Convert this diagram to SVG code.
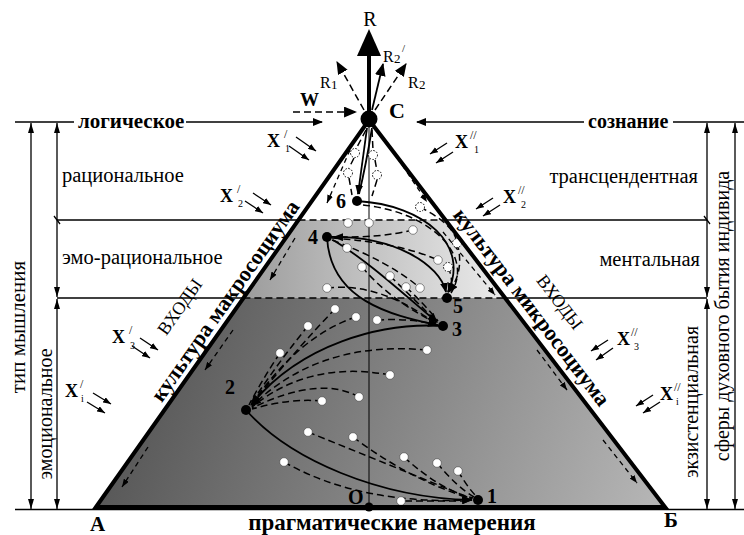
<svg xmlns="http://www.w3.org/2000/svg" width="744" height="535" viewBox="0 0 744 535">
<style>
.t{font-family:"Liberation Serif","Times New Roman",serif;fill:#000}
.b{font-weight:bold}
.ln{stroke:#000;stroke-width:1.3;fill:none}
.sol{stroke:#000;stroke-width:1.8;fill:none}
.dash{stroke:#000;stroke-width:1.5;fill:none;stroke-dasharray:7 4}
.edg{stroke:#000;stroke-width:1.3;fill:none;stroke-dasharray:5 4}
.wd{fill:#fff;stroke:#444;stroke-width:0.6}
.gd{fill:#fff;stroke:#000;stroke-width:1;stroke-dasharray:1.5 1.5}
.nd{fill:#000}
.nl{font-size:20px}
</style>
<defs>
<linearGradient id="gBand" x1="243" y1="0" x2="505" y2="0" gradientUnits="userSpaceOnUse">
<stop offset="0" stop-color="#9c9c9c"/><stop offset="1" stop-color="#ececec"/>
</linearGradient>
<linearGradient id="gLow" x1="150" y1="320" x2="650" y2="500" gradientUnits="userSpaceOnUse">
<stop offset="0" stop-color="#565656"/><stop offset="1" stop-color="#b4b4b4"/>
</linearGradient>
<marker id="ac" viewBox="0 0 10 8" refX="9" refY="4" markerWidth="10" markerHeight="8" markerUnits="userSpaceOnUse" orient="auto"><path d="M0,0L10,4L0,8z"/></marker>
<marker id="am" viewBox="0 0 12 10" refX="11" refY="5" markerWidth="13" markerHeight="11" markerUnits="userSpaceOnUse" orient="auto"><path d="M0,0L12,5L0,10z"/></marker>
<marker id="ad" viewBox="0 0 10 6" refX="10" refY="3" markerWidth="10" markerHeight="6" markerUnits="userSpaceOnUse" orient="auto-start-reverse"><path d="M0,0L10,3L0,6z"/></marker>
<marker id="ax" viewBox="0 0 8 6" refX="8" refY="3" markerWidth="8" markerHeight="6" markerUnits="userSpaceOnUse" orient="auto"><path d="M0,0L8,3L0,6z"/></marker>
</defs>
<rect width="744" height="535" fill="#fff"/>

<!-- triangle fills -->
<polygon points="298.5,220 445.5,220 505.1,298 243.4,298" fill="url(#gBand)"/>
<polygon points="243.4,298 505.1,298 665,507 96,507" fill="url(#gLow)"/>
<line x1="298.5" y1="220" x2="445.5" y2="220" stroke="#000" stroke-width="1.5" stroke-dasharray="7 4"/>
<line x1="243.4" y1="298" x2="505.1" y2="298" stroke="#000" stroke-width="1.5" stroke-dasharray="7 4"/>
<line x1="369" y1="120" x2="369" y2="507" stroke="#000" stroke-width="1"/>

<!-- level lines and dimension arrows -->
<g id="levels">
<line class="ln" x1="15" y1="122" x2="74" y2="122"/>
<line class="ln" x1="186" y1="122" x2="322" y2="122" marker-end="url(#ac)"/>
<line class="ln" x1="584" y1="122" x2="417" y2="122" marker-end="url(#ac)"/>
<line class="ln" x1="673" y1="122" x2="744" y2="122"/>
<line class="ln" x1="57" y1="220" x2="298.5" y2="220"/>
<line class="ln" x1="445.5" y1="220" x2="707" y2="220"/>
<line class="ln" x1="57" y1="298" x2="243.4" y2="298"/>
<line class="ln" x1="505.1" y1="298" x2="707" y2="298"/>
<line class="ln" x1="15" y1="509.5" x2="744" y2="509.5"/>
<line class="ln" x1="31" y1="123" x2="31" y2="509" marker-start="url(#ad)" marker-end="url(#ad)"/>
<line class="ln" x1="57" y1="123" x2="57" y2="297" marker-start="url(#ad)" marker-end="url(#ad)"/>
<line class="ln" x1="57" y1="299" x2="57" y2="509" marker-start="url(#ad)" marker-end="url(#ad)"/>
<line class="ln" x1="707" y1="123" x2="707" y2="297" marker-start="url(#ad)" marker-end="url(#ad)"/>
<line class="ln" x1="707" y1="299" x2="707" y2="509" marker-start="url(#ad)" marker-end="url(#ad)"/>
<line class="ln" x1="735" y1="123" x2="735" y2="509" marker-start="url(#ad)" marker-end="url(#ad)"/>
<line class="ln" x1="54" y1="216" x2="60" y2="224"/>
<line class="ln" x1="704" y1="216" x2="710" y2="224"/>
</g>

<g id="labels">
<text class="t b" x="78" y="128" font-size="21">логическое</text>
<text class="t b" x="588" y="128" font-size="20">сознание</text>
<text class="t" x="62" y="182" font-size="20.5">рациональное</text>
<text class="t" x="62" y="264" font-size="20.5">эмо-рациональное</text>
<text class="t" x="698" y="183" font-size="20.5" text-anchor="end">трансцендентная</text>
<text class="t" x="700" y="266" font-size="20.5" text-anchor="end">ментальная</text>
<text class="t" font-size="21" text-anchor="middle" transform="translate(25,327) rotate(-90)">тип мышления</text>
<text class="t" font-size="20" text-anchor="middle" transform="translate(52,414) rotate(-90)">эмоциональное</text>
<text class="t" font-size="20" text-anchor="middle" transform="translate(729,316) rotate(-90)">сферы духовного бытия индивида</text>
<text class="t" font-size="20" text-anchor="middle" transform="translate(698,402) rotate(-90)">экзистенциальная</text>
<text class="t b" x="392" y="530" font-size="23" text-anchor="middle">прагматические намерения</text>
<text class="t b" x="90" y="531" font-size="21">А</text>
<text class="t b" x="664" y="527" font-size="21">Б</text>
<text class="t b" font-size="22" text-anchor="middle" transform="translate(231,305) rotate(-54.8)">культура макросоциума</text>
<text class="t b" font-size="22" text-anchor="middle" transform="translate(526,311.5) rotate(52.59)">культура микросоциума</text>
<text class="t" font-size="18" text-anchor="middle" transform="translate(184.7,310.2) rotate(-54.8)">ВХОДЫ</text>
<text class="t" font-size="18" text-anchor="middle" transform="translate(555,305.7) rotate(52.59)">ВХОДЫ</text>
</g>

<!-- inputs X -->
<g id="inputs">
<text class="t b" x="267" y="147" font-size="18">X</text><text class="t" x="284" y="138" font-size="12">/</text><text class="t" x="285" y="152" font-size="10">1</text>
<text class="t b" x="220" y="202" font-size="18">X</text><text class="t" x="237" y="193" font-size="12">/</text><text class="t" x="238" y="207" font-size="10">2</text>
<text class="t b" x="112" y="343" font-size="18">X</text><text class="t" x="129" y="334" font-size="12">/</text><text class="t" x="130" y="349" font-size="10">3</text>
<text class="t b" x="65" y="397" font-size="18">X</text><text class="t" x="80" y="388" font-size="12">/</text><text class="t" x="81" y="402" font-size="10">i</text>
<text class="t b" x="455" y="148" font-size="18">X</text><text class="t" x="470" y="139" font-size="12">//</text><text class="t" x="474" y="153" font-size="10">1</text>
<text class="t b" x="503" y="203" font-size="18">X</text><text class="t" x="518" y="194" font-size="12">//</text><text class="t" x="521" y="208" font-size="10">2</text>
<text class="t b" x="617" y="345" font-size="18">X</text><text class="t" x="631" y="336" font-size="12">//</text><text class="t" x="634" y="350" font-size="10">3</text>
<text class="t b" x="660" y="400" font-size="18">X</text><text class="t" x="674" y="391" font-size="12">//</text><text class="t" x="676" y="405" font-size="10">i</text>
<g class="ln" stroke-width="1.3">
<line x1="296" y1="137" x2="316" y2="151" marker-end="url(#ax)"/><line x1="289" y1="146" x2="309" y2="160" marker-end="url(#ax)"/>
<line x1="253" y1="193" x2="271" y2="205" marker-end="url(#ax)"/><line x1="245" y1="201" x2="263" y2="213" marker-end="url(#ax)"/>
<line x1="140" y1="338" x2="158" y2="350" marker-end="url(#ax)"/><line x1="132" y1="346" x2="150" y2="358" marker-end="url(#ax)"/>
<line x1="93" y1="393" x2="111" y2="404" marker-end="url(#ax)"/><line x1="87" y1="402" x2="105" y2="413" marker-end="url(#ax)"/>
<line x1="447" y1="143" x2="430" y2="154" marker-end="url(#ax)"/><line x1="453" y1="152" x2="436" y2="163" marker-end="url(#ax)"/>
<line x1="493" y1="198" x2="476" y2="209" marker-end="url(#ax)"/><line x1="500" y1="205" x2="483" y2="216" marker-end="url(#ax)"/>
<line x1="608" y1="340" x2="591" y2="351" marker-end="url(#ax)"/><line x1="613" y1="348" x2="596" y2="360" marker-end="url(#ax)"/>
<line x1="653" y1="395" x2="636" y2="406" marker-end="url(#ax)"/><line x1="660" y1="402" x2="643" y2="413" marker-end="url(#ax)"/>
</g>
</g>

<!-- connectors -->
<g id="connectors">
<g class="edg">
<path d="M350,150 L327,203" marker-end="url(#ax)"/>
<path d="M295,238 L270,280" marker-end="url(#ax)"/>
<path d="M233,330 L205,370" marker-end="url(#ax)"/>
<path d="M148,447 L122,487" marker-end="url(#ax)"/>
<path d="M392,150 L427,202" marker-end="url(#ax)"/>
<path d="M443,232 L495,295" marker-end="url(#ax)"/>
<path d="M537,350 L567,390" marker-end="url(#ax)"/>
<path d="M603,440 L637,483" marker-end="url(#ax)"/>
</g>
<g class="dash">
<path d="M366,130 L356,149"/><path d="M372,130 L373,150"/>
<path d="M354,158 L349,168"/><path d="M375,160 L377,171"/>
<path d="M349,178 L352,195"/><path d="M377,180 L372,196"/>
<path d="M413,230 Q380,238 334,237" marker-end="url(#ac)"/>
<path d="M332,238 Q400,243 438,260"/>
<path d="M332,240 Q390,262 420,288"/>
<path d="M390,276 Q420,305 437,322" marker-end="url(#ac)"/>
<path d="M406,287 Q425,305 438,321"/>
<path d="M362,267 Q390,300 436,323"/>
<path d="M327,288 Q380,282 436,324"/>
<path d="M420,207 Q455,225 457,243"/>
<path d="M457,243 Q465,270 449,292" marker-end="url(#ac)"/>
<path d="M448,267 Q455,283 448,292"/>
<path d="M363,205 C430,212 475,255 451,293"/>
<path d="M377,320 Q410,318 438,325"/>
<path d="M335,309 Q300,345 251,405" marker-end="url(#ac)"/>
<path d="M308,326 Q280,360 250,405"/>
<path d="M280,353 Q262,380 249,405"/>
<path d="M356,317 Q300,335 251,405"/>
<path d="M427,350 Q320,340 252,406" marker-end="url(#ac)"/>
<path d="M390,375 Q310,360 252,407"/>
<path d="M359,397 Q320,375 252,408"/>
<path d="M322,401 Q290,398 252,409"/>
<path d="M308,432 Q390,465 472,499"/>
<path d="M353,437 Q410,480 472,499"/>
<path d="M284,462 Q360,505 471,500" marker-end="url(#ac)"/>
<path d="M404,457 Q440,490 473,498"/>
<path d="M437,463 Q458,488 474,497"/>
<path d="M458,471 Q468,488 476,496"/>
<path d="M405,501 L471,501"/>
</g>
<g class="sol">
<path d="M367,128 L358,194" marker-end="url(#ac)"/>
<path d="M372,128 Q366,165 359,194"/>
<path d="M357,201 C425,205 470,245 448,292" marker-end="url(#ac)"/>
<path d="M327,237 C395,235 440,265 446,292" marker-end="url(#ac)"/>
<path d="M327,237 C330,300 390,315 437,325" marker-end="url(#ac)"/>
<path d="M333,240 C370,262 410,300 437,322" marker-end="url(#ac)"/>
<path d="M443,326 C380,322 300,345 252,404" marker-end="url(#ac)"/>
<path d="M246,410 C290,460 380,498 472,500" marker-end="url(#ac)"/>
</g>
<!-- R arrows and W -->
<line x1="369" y1="112" x2="369" y2="54" stroke="#000" stroke-width="4"/>
<polygon points="369,29 357,56 381,56" fill="#000"/>
<line x1="372" y1="110" x2="383" y2="64" stroke="#000" stroke-width="1.8" marker-end="url(#am)"/>
<line x1="375" y1="110" x2="406" y2="64" class="dash" stroke-width="1.8" marker-end="url(#am)"/>
<line x1="364" y1="110" x2="337" y2="62" class="dash" stroke-width="1.8" marker-end="url(#am)"/>
<line x1="293" y1="112" x2="356" y2="112" class="dash" stroke-width="1.8" stroke-dasharray="9 5" marker-end="url(#am)"/>
</g>

<!-- white dots -->
<g id="dots">
<circle class="wd" cx="335" cy="309" r="4.3"/><circle class="wd" cx="356" cy="317" r="4.3"/><circle class="wd" cx="377" cy="320" r="4.3"/>
<circle class="wd" cx="308" cy="326" r="4.3"/><circle class="wd" cx="280" cy="353" r="4.3"/><circle class="wd" cx="427" cy="350" r="4.3"/>
<circle class="wd" cx="390" cy="375" r="4.3"/><circle class="wd" cx="359" cy="397" r="4.3"/><circle class="wd" cx="322" cy="401" r="4.3"/>
<circle class="wd" cx="308" cy="432" r="4.3"/><circle class="wd" cx="353" cy="437" r="4.3"/><circle class="wd" cx="284" cy="462" r="4.3"/>
<circle class="wd" cx="404" cy="457" r="4.3"/><circle class="wd" cx="437" cy="463" r="4.3"/><circle class="wd" cx="458" cy="471" r="4.3"/>
<circle class="wd" cx="401" cy="501" r="4.3"/>
<circle class="wd" cx="348" cy="223" r="4.3"/><circle class="wd" cx="369" cy="223" r="4.3"/><circle class="wd" cx="413" cy="230" r="4.3"/>
<circle class="wd" cx="347" cy="248" r="4.3"/><circle class="wd" cx="362" cy="267" r="4.3"/><circle class="wd" cx="390" cy="276" r="4.3"/>
<circle class="wd" cx="406" cy="287" r="4.3"/><circle class="wd" cx="420" cy="288" r="4.3"/><circle class="wd" cx="327" cy="288" r="4.3"/>
<circle class="wd" cx="438" cy="260" r="4.3"/>
<circle class="gd" cx="355" cy="153" r="4.5"/><circle class="gd" cx="373" cy="155" r="4.5"/><circle class="gd" cx="348" cy="173" r="4.5"/>
<circle class="gd" cx="377" cy="175" r="4.5"/><circle class="gd" cx="420" cy="207" r="4.5"/><circle class="gd" cx="448" cy="267" r="4.5"/>
<circle class="gd" cx="457" cy="243" r="4.5"/>
</g>

<!-- triangle edges -->
<path d="M96,507 L369,120 L665,507 Z" fill="none" stroke="#000" stroke-width="4" stroke-linejoin="miter"/>

<!-- nodes -->
<g id="node-C"><circle class="nd" cx="369" cy="119" r="8.5"/><text class="t b" x="389" y="118" font-size="22">C</text></g>
<g id="node-R"><text class="t" x="370" y="26" font-size="20" text-anchor="middle">R</text></g>
<g id="node-R1"><text class="t" x="320" y="88" font-size="16">R</text><text class="t" x="331" y="89" font-size="13">1</text></g>
<g id="node-R2p"><text class="t" x="383" y="62" font-size="16">R</text><text class="t" x="394" y="63" font-size="13">2</text><text class="t" x="402" y="52" font-size="11">/</text></g>
<g id="node-R2"><text class="t" x="408" y="88" font-size="16">R</text><text class="t" x="419" y="89" font-size="13">2</text></g>
<g id="node-W"><text class="t b" x="300" y="106" font-size="19">W</text></g>
<g id="node-O"><circle class="nd" cx="369" cy="507" r="4.5"/><text class="t b" x="348" y="504" font-size="20">O</text></g>
<g id="node-1"><circle class="nd" cx="478" cy="500" r="5"/><text class="t b nl" x="487" y="503">1</text></g>
<g id="node-2"><circle class="nd" cx="246" cy="410" r="5"/><text class="t b nl" x="225" y="394">2</text></g>
<g id="node-3"><circle class="nd" cx="443" cy="326" r="5"/><text class="t b nl" x="452" y="336">3</text></g>
<g id="node-4"><circle class="nd" cx="327" cy="237" r="5"/><text class="t b nl" x="308" y="244">4</text></g>
<g id="node-5"><circle class="nd" cx="447" cy="298" r="5"/><text class="t b nl" x="453" y="313">5</text></g>
<g id="node-6"><circle class="nd" cx="357" cy="201" r="5"/><text class="t b nl" x="336" y="208">6</text></g>
</svg>
